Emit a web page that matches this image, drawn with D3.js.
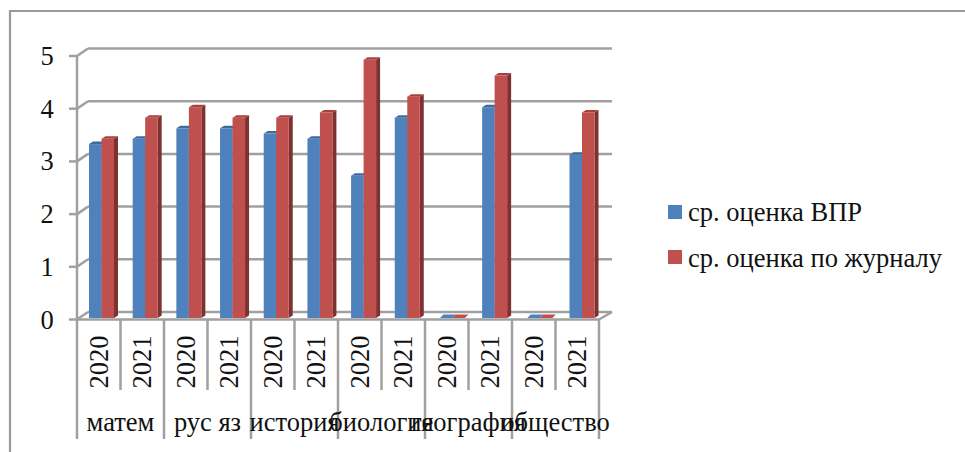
<!DOCTYPE html>
<html><head><meta charset="utf-8">
<script src="https://cdn.jsdelivr.net/npm/d3@7/dist/d3.min.js"></script>
<style>html,body{margin:0;padding:0;background:#fff}svg{display:block}text{font-family:"Liberation Serif",serif;fill:#111}</style>
</head><body><svg id="c" width="965" height="452"></svg>
<script>
const groups = ["матем","рус яз","история","биология","география","общество"];
const years = ["2020","2021"];
const seriesNames = ["ср. оценка ВПР","ср. оценка по журналу"];
const vpr = [3.3,3.4,3.6,3.6,3.5,3.4,2.7,3.8,0,4,0,3.1];
const journal = [3.4,3.8,4,3.8,3.8,3.9,4.9,4.2,0,4.6,0,3.9];
const yTicks = [0,1,2,3,4,5];
const colors = ["#4f81bd","#c0504d"], tops=["#3f6a9e","#a8403d"], sides=["#3a5f8c","#7d3231"];
const GRID="#a0a0a0";
const svg=d3.select("#c");
const cats=d3.range(12);
const x=d3.scaleBand().domain(cats).range([77,599]).paddingInner(0).paddingOuter(0);
const xBar=d3.scalePoint().domain(cats).range([89,569.5]);
const y=d3.scaleLinear().domain([0,5]).range([319.5,56]);
const dx=11,dy=-7.5;
const line=(x1,y1,x2,y2,w=2.5,c=GRID)=>svg.append("line").attr("x1",x1).attr("y1",y1).attr("x2",x2).attr("y2",y2).attr("stroke",c).attr("stroke-width",w);
// frame
line(9,11,965,11,2.2,"#9a9a9a");
line(10,10,10,452,2.2,"#9a9a9a");
// gridlines
yTicks.forEach(t=>{
  const p=y(t);
  line(69,p,77,p);
  line(77,p,77+dx,p+dy);
  line(77+dx,p+dy,599+dx+2,p+dy);
});
line(77,y(5),77,y(0));
line(77,y(0),599,y(0));
line(599,y(0),599+dx+2,y(0)+dy);
// category separators
cats.forEach(i=>{ line(x(i),320,x(i),390); });
line(599,320,599,390);
d3.range(groups.length+1).forEach(g=>line(77+g*2*x.step(),390,77+g*2*x.step(),439));
// bars
const bw=12.5, base=y(0)-1.5;
const h=v=>y(0)-y(v);
[vpr,journal].forEach((vals,s)=>{
  const g=svg.append("g");
  vals.forEach((v,i)=>{
    const xl=xBar(i)+s*bw, xr=xl+bw, t=base-h(v);
    if(v===0){
      g.append("path").attr("d",`M${xl+1.5},${base}L${xr+1.5},${base}L${xr+5},${base-3.5}L${xl+5},${base-3.5}Z`).attr("fill",colors[s]);
      return;
    }
    g.append("path").attr("d",`M${xr},${t}L${xr+4},${t-2.5}L${xr+4},${base-2.5}L${xr},${base}Z`).attr("fill",sides[s]);
    g.append("path").attr("d",`M${xl},${t}L${xr},${t}L${xr+4},${t-2.5}L${xl+4},${t-2.5}Z`).attr("fill",tops[s]);
    g.append("rect").attr("x",xl).attr("y",t).attr("width",bw).attr("height",h(v)).attr("fill",colors[s]);
  });
});
// y labels
yTicks.forEach(t=>svg.append("text").attr("x",47).attr("y",y(t)+9).attr("text-anchor","middle").attr("font-size",26.5).text(t));
// year labels
cats.forEach(i=>{
  const cx=x(i)+x.bandwidth()/2+9;
  svg.append("text").attr("transform",`translate(${cx},362) rotate(-90)`).attr("text-anchor","middle").attr("font-size",26.5).text(years[i%2]);
});
// group labels
groups.forEach((n,g)=>{
  svg.append("text").attr("x",77+(g+0.5)*2*x.step()).attr("y",431).attr("text-anchor","middle").attr("font-size",26.5).text(n);
});
// legend
seriesNames.forEach((n,i)=>{
  svg.append("rect").attr("x",668).attr("y",205+i*45).attr("width",14).attr("height",14).attr("fill",colors[i]);
  svg.append("text").attr("x",688).attr("y",221+i*46).attr("font-size",26.5).text(n);
});
</script></body></html>
